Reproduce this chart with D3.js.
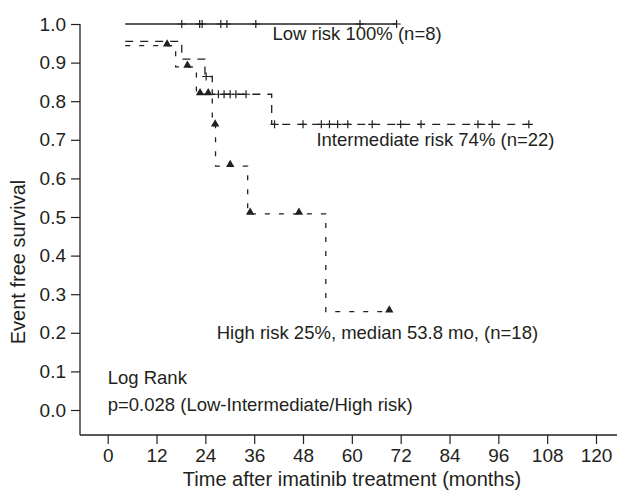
<!DOCTYPE html>
<html><head><meta charset="utf-8">
<script src="https://cdn.jsdelivr.net/npm/d3@7"></script>
<style>
html,body{margin:0;padding:0;background:#fff;}
svg{display:block;font-family:"Liberation Sans",Arial,sans-serif;}
</style></head>
<body>
<svg id="chart" width="619" height="491"></svg>
<script>
// ---- data ----
const xTicks = [0, 12, 24, 36, 48, 60, 72, 84, 96, 108, 120];
const yTicks = [0, 0.1, 0.2, 0.3, 0.4, 0.5, 0.6, 0.7, 0.8, 0.9, 1.0];

const lowTimes = [4.3];
const lowSurv = [1.0];
const lowEnd = 71;
const lowCensor = [18.2, 22.6, 23.2, 27.8, 29.3, 36.4, 62, 71];

const intTimes = [4.3, 18.2, 23.9, 25.7, 40.3];
const intSurv = [0.955, 0.909, 0.864, 0.818, 0.74];
const intEnd = 103.5;
const intCensor = [24.2, 27.2, 28.6, 30.1, 31.5, 34, 41, 48, 52.5, 54.5, 56.5, 59, 65, 72, 77, 91, 94.5, 103.5];

const highTimes = [4.3, 16.7, 21.8, 25.7, 26.5, 34.4, 53.6];
const highSurv = [0.944, 0.889, 0.818, 0.737, 0.632, 0.508, 0.255];
const highEnd = 69.2;
const highCensor = [14.6, 19.6, 22.7, 24.7, 26.4, 30.1, 35, 47, 69.2];

const labels = [
  {text: "Low risk 100% (n=8)", t: 40.5, s: 0.975},
  {text: "Intermediate risk 74% (n=22)", t: 51.3, s: 0.7},
  {text: "High risk 25%, median 53.8 mo, (n=18)", t: 26.8, s: 0.2}
];
const logRank = ["Log Rank", "p=0.028 (Low-Intermediate/High risk)"];

// ---- layout ----
const ink = "#231f20";
const svg = d3.select("#chart");
const x = d3.scaleLinear().domain([0, 120]).range([107.7, 596]);
const y = d3.scaleLinear().domain([0, 1]).range([410, 24]);
const axisY = 435, axisX = 80;

// axes
const gy = svg.append("g").attr("transform", `translate(${axisX},0)`)
  .call(d3.axisLeft(y).tickValues(yTicks).tickFormat(d3.format(".1f")).tickSize(9).tickSizeOuter(0).tickPadding(5));
gy.select(".domain").remove();
const gx = svg.append("g").attr("transform", `translate(0,${axisY})`)
  .call(d3.axisBottom(x).tickValues(xTicks).tickSize(9).tickSizeOuter(0).tickPadding(5));
gx.select(".domain").remove();
[gx, gy].forEach(g => {
  g.selectAll("line").attr("stroke", ink).attr("stroke-width", 1.2);
  g.selectAll("text").attr("fill", ink).style("font-size", "19px").style("font-family", '"Liberation Sans",Arial,sans-serif');
});
svg.append("line").attr("x1", axisX).attr("x2", axisX).attr("y1", y(1)).attr("y2", axisY).attr("stroke", ink).attr("stroke-width", 1.3);
svg.append("line").attr("x1", axisX).attr("x2", 617).attr("y1", axisY).attr("y2", axisY).attr("stroke", ink).attr("stroke-width", 1.3);

svg.append("text").attr("x", 352).attr("y", 486).attr("text-anchor", "middle")
  .attr("fill", ink).style("font-size", "20px").text("Time after imatinib treatment (months)");
svg.append("text").attr("transform", "translate(25,262) rotate(-90)").attr("text-anchor", "middle")
  .attr("fill", ink).style("font-size", "20px").text("Event free survival");

// step curves
function stepAt(times, surv, t) {
  let v = surv[0];
  for (let i = 0; i < times.length; i++) if (t >= times[i]) v = surv[i];
  return v;
}
const line = d3.line().x(d => x(d[0])).y(d => y(d[1])).curve(d3.curveStepAfter);
function curve(times, surv, end, dash) {
  const pts = times.map((t, i) => [t, surv[i]]);
  pts.push([end, surv[surv.length - 1]]);
  svg.append("path").attr("d", line(pts)).attr("fill", "none").attr("stroke", ink)
    .attr("stroke-width", 1.3).attr("stroke-dasharray", dash);
}
curve(lowTimes, lowSurv, lowEnd, null);
curve(intTimes, intSurv, intEnd, "8,7");
curve(highTimes, highSurv, highEnd, "5,9");

function plusMarks(times, surv, cens) {
  cens.forEach(t => {
    const cx = x(t), cy = y(stepAt(times, surv, t));
    svg.append("path").attr("d", `M${cx - 4},${cy}H${cx + 4}M${cx},${cy - 4}V${cy + 4}`)
      .attr("stroke", ink).attr("stroke-width", 1.2).attr("fill", "none");
  });
}
plusMarks(lowTimes, lowSurv, lowCensor);
plusMarks(intTimes, intSurv, intCensor);
const tri = d3.symbol().type(d3.symbolTriangle).size(30);
highCensor.forEach(t => {
  svg.append("path").attr("d", tri()).attr("fill", ink)
    .attr("transform", `translate(${x(t)},${y(stepAt(highTimes, highSurv, t)) - 1.5})`);
});

// annotations
labels.forEach(l => {
  svg.append("text").attr("x", x(l.t)).attr("y", y(l.s)).attr("dy", "0.35em")
    .attr("fill", ink).style("font-size", "18.5px").text(l.text);
});
logRank.forEach((s, i) => {
  svg.append("text").attr("x", x(0)).attr("y", 384 + i * 27)
    .attr("fill", ink).style("font-size", "18.5px").text(s);
});
</script>
</body></html>
